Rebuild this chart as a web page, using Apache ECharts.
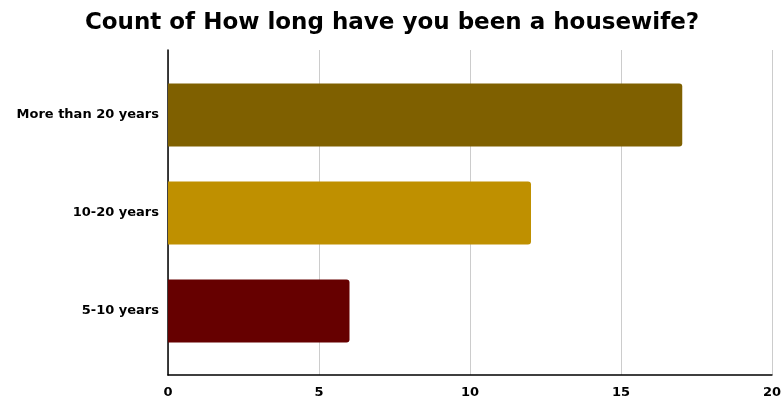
<!DOCTYPE html>
<html><head><meta charset="utf-8">
<script src="https://cdn.jsdelivr.net/npm/echarts@6/dist/echarts.min.js"></script>
<style>html,body{margin:0;padding:0;background:#fff}#c{width:784px;height:401px}</style>
</head><body><div id="c"></div>
<script>
const categories = ['5-10 years', '10-20 years', 'More than 20 years'];
const counts = [6, 12, 17];
const barColors = ['#660000', '#bf9000', '#7f6000'];
const xTicks = [0, 5, 10, 15, 20];

const chart = echarts.init(document.getElementById('c'));
const font = '"DejaVu Sans", Verdana, sans-serif';
chart.setOption({
  animation: false,
  backgroundColor: '#fff',
  title: {
    text: 'Count of How long have you been a housewife?',
    left: 'center', top: 7,
    textStyle: { fontFamily: font, fontWeight: 'bold', fontSize: 23, color: '#000' }
  },
  grid: [
    { left: 168, right: 11, top: 50, bottom: 26 },
    { left: 168, right: 11, top: 66, bottom: 41 }
  ],
  xAxis: [
    {
      gridIndex: 0, type: 'value', min: xTicks[0], max: xTicks[xTicks.length - 1], interval: 5,
      axisLine: { show: true, lineStyle: { color: '#000', width: 1.5 } },
      axisTick: { show: false },
      splitLine: { show: true, lineStyle: { color: '#cccccc', width: 1 } },
      axisLabel: { fontFamily: font, fontWeight: 'bold', fontSize: 13, color: '#000', margin: 11 }
    },
    {
      gridIndex: 1, type: 'value', min: xTicks[0], max: xTicks[xTicks.length - 1],
      show: false
    }
  ],
  yAxis: [
    {
      gridIndex: 0, type: 'value', min: 0, max: 1,
      axisLine: { show: true, lineStyle: { color: '#000', width: 1.5 } },
      axisTick: { show: false }, axisLabel: { show: false }, splitLine: { show: false }
    },
    {
      gridIndex: 1, type: 'category', data: categories,
      axisLine: { show: false }, axisTick: { show: false }, splitLine: { show: false },
      axisLabel: { fontFamily: font, fontWeight: 'bold', fontSize: 13, color: '#000', margin: 9 }
    }
  ],
  series: [{
    type: 'bar', xAxisIndex: 1, yAxisIndex: 1,
    barWidth: 63,
    data: counts.map((v, i) => ({ value: v, itemStyle: { color: barColors[i], borderRadius: [0, 3, 3, 0] } }))
  }]
});
</script></body></html>
